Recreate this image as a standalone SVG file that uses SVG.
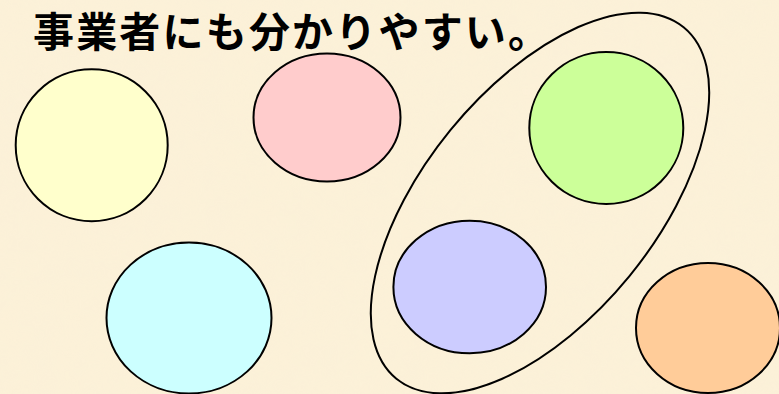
<svg xmlns="http://www.w3.org/2000/svg" width="779" height="394" viewBox="0 0 779 394">
  <defs>
    <filter id="paper" x="0" y="0" width="100%" height="100%">
      <feTurbulence type="fractalNoise" baseFrequency="0.035" numOctaves="3" seed="4" result="n"/>
      <feColorMatrix in="n" type="matrix" values="0 0 0 0 0.93  0 0 0 0 0.86  0 0 0 0 0.70  0 0 0 0.35 0"/>
    </filter>
    <style>
      .c { stroke: #000; stroke-width: 2; }
      .title { font-family: "Noto Sans CJK JP", "Noto Sans CJK SC", sans-serif; font-weight: 600; font-size: 41px; fill: #000; }
    </style>
  </defs>
  <rect width="779" height="394" fill="#fcf1d8"/>
  <rect width="779" height="394" filter="url(#paper)" opacity="0.6"/>
  <text class="title" x="33" y="47" textLength="516" lengthAdjust="spacing">事業者にも分かりやすい。</text>
  <g id="group-ellipse">
    <ellipse cx="540" cy="203" rx="227" ry="115.5" transform="rotate(-50.75 540 203)" fill="none" stroke="#000" stroke-width="2"/>
  </g>
  <g id="node-yellow"><ellipse class="c" cx="91.7" cy="145.2" rx="76" ry="76" fill="#ffffcc"/></g>
  <g id="node-pink"><ellipse class="c" cx="327" cy="117.5" rx="73.5" ry="64" fill="#ffcccc"/></g>
  <g id="node-green"><ellipse class="c" cx="606.3" cy="128" rx="77" ry="76" fill="#ccff99"/></g>
  <g id="node-cyan"><ellipse class="c" cx="189" cy="318" rx="82.5" ry="75.5" fill="#ccffff"/></g>
  <g id="node-lavender"><ellipse class="c" cx="469.7" cy="287" rx="76.3" ry="66.3" fill="#ccccff"/></g>
  <g id="node-orange"><ellipse class="c" cx="708" cy="328" rx="72" ry="65" fill="#ffcc99"/></g>
  <g id="connectors"></g>
</svg>
